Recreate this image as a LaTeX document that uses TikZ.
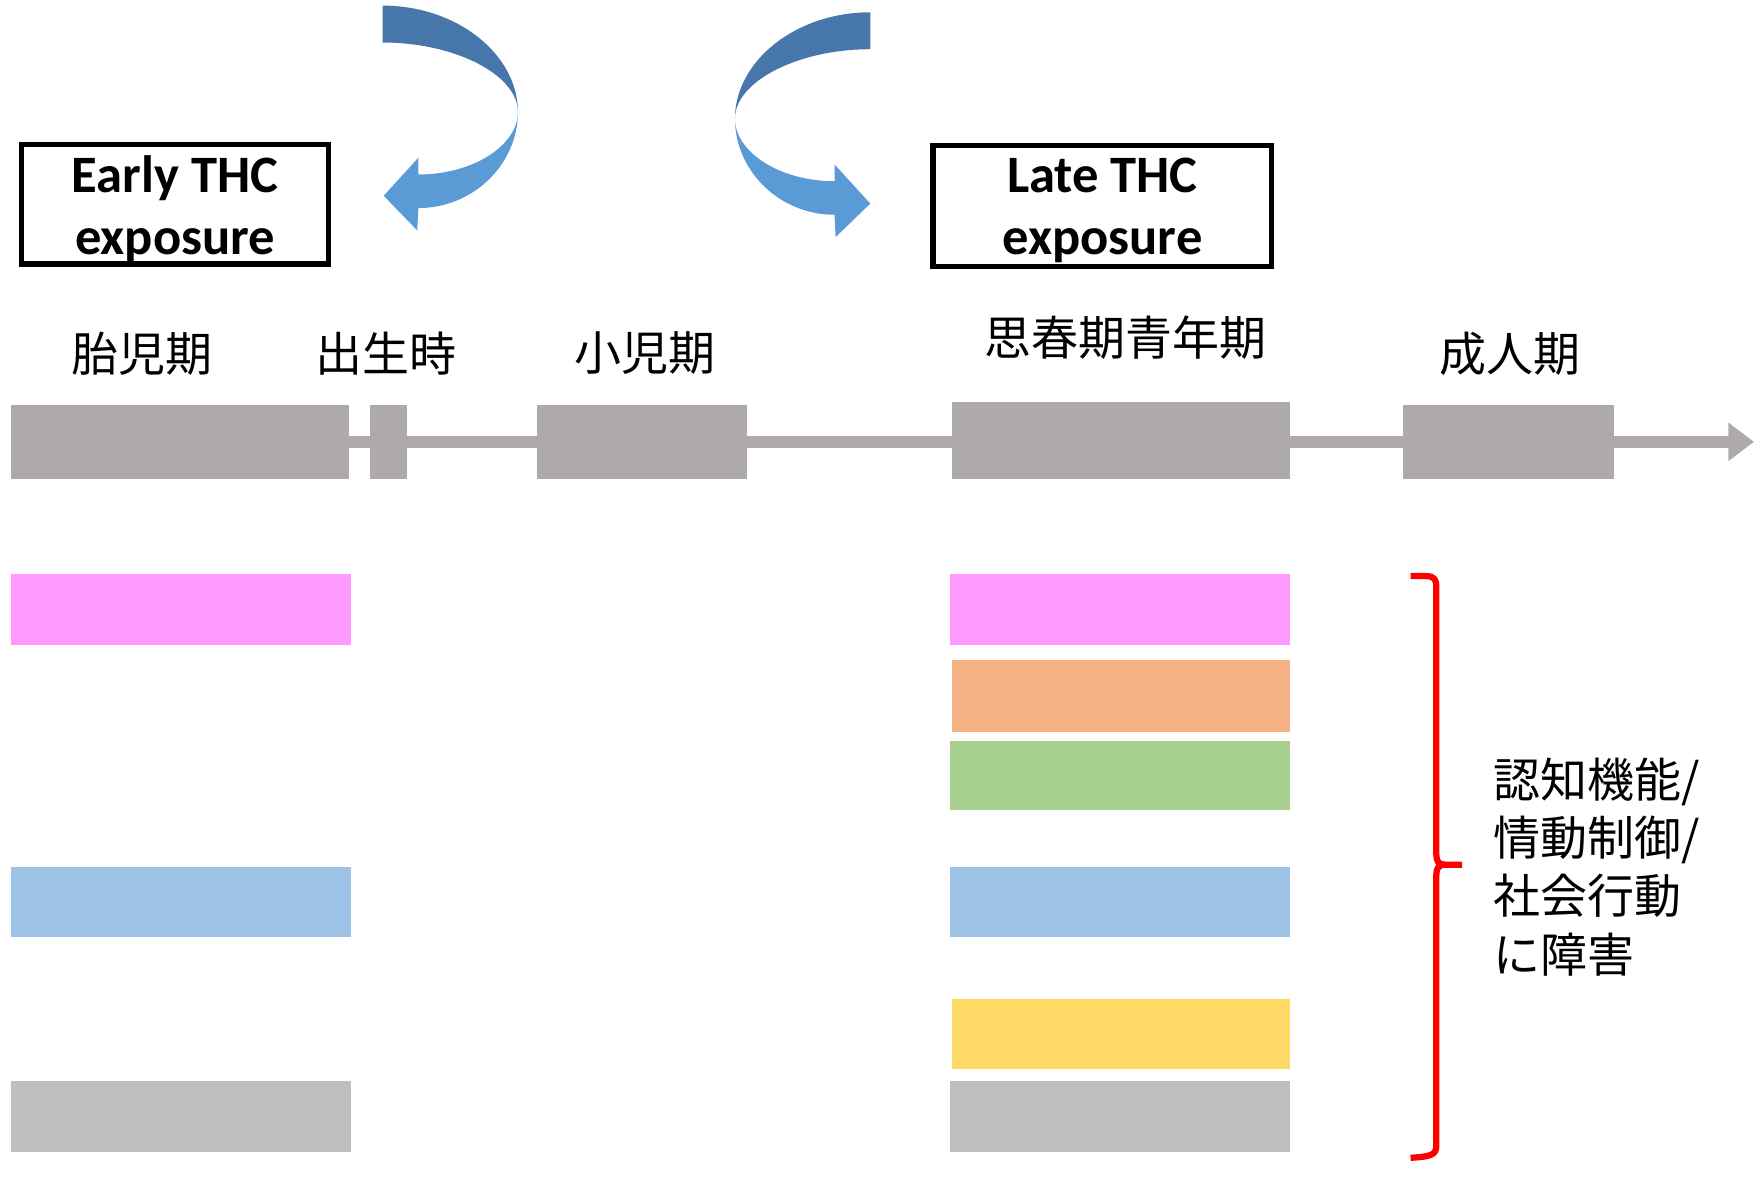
\documentclass[tikz,border=0pt]{standalone}
\usepackage{fontspec}
\newfontfamily\cjk{Noto Sans CJK JP}
\newfontfamily\carl{Carlito}
\usetikzlibrary{arrows.meta}
\definecolor{tlgray}{RGB}{174,170,170}
\definecolor{arrdark}{RGB}{70,118,170}
\definecolor{arrlight}{RGB}{91,155,213}
\definecolor{bpink}{RGB}{255,153,255}
\definecolor{borange}{RGB}{244,177,131}
\definecolor{bgreen}{RGB}{169,209,142}
\definecolor{bblue}{RGB}{157,195,230}
\definecolor{byellow}{RGB}{255,217,102}
\definecolor{bgray}{RGB}{191,191,191}
\begin{document}
\begin{tikzpicture}[x=0.5pt,y=-0.5pt,
  tlbox/.style={fill=tlgray, inner sep=0pt, outer sep=0pt, minimum height=33pt},
  tlline/.style={draw=tlgray, line width=5.5pt},
  lab/.style={font=\cjk\fontsize{21pt}{26pt}\selectfont, inner sep=0pt},
  thcbox/.style={draw=black, line width=2.3pt, inner sep=0pt},
  thctext/.style={inner sep=0pt, align=center,
    font=\carl\bfseries\fontsize{23.5pt}{27.5pt}\selectfont},
  bar/.style={inner sep=0pt, outer sep=0pt, minimum width=152pt, minimum height=32pt},
]
\useasboundingbox (0,0) rectangle (1568,1069);

% curved arrows
\fill[arrdark] (342,5) .. controls (409,5) and (463,49) .. (463,100)
  .. controls (463,67) and (407,38) .. (342,38) -- cycle;
\fill[arrlight] (463,100) .. controls (463,147) and (423,186) .. (374,186)
  -- (373,206) -- (343,175) -- (374,141) -- (374,156)
  .. controls (423,156) and (463,130) .. (463,100) -- cycle;
\fill[arrdark] (778,11) .. controls (711,11) and (657,55) .. (657,106)
  .. controls (657,73) and (713,44) .. (778,44) -- cycle;
\fill[arrlight] (657,106) .. controls (657,153) and (697,192) .. (746,192)
  -- (747,212) -- (778,182) -- (746,147) -- (746,162)
  .. controls (697,162) and (657,136) .. (657,106) -- cycle;

% THC boxes
\node[thcbox, minimum width=137.5pt, minimum height=53.5pt] (early) at (156.5,182.5) {};
\node[thctext] (earlyt) at (156.5,187) {Early THC\\exposure};
\node[thcbox, minimum width=151.5pt, minimum height=54pt] (late) at (985.5,184) {};
\node[thctext] (latet) at (985.5,188) {Late THC\\exposure};

% timeline labels
\node[lab] (l1) at (127,316) {胎児期};
\node[lab] (l2) at (345,316) {出生時};
\node[lab] (l3) at (577,316) {小児期};
\node[lab] (l4) at (1006,302) {思春期青年期};
\node[lab] (l5) at (1350,316) {成人期};

% timeline
\node[tlbox, minimum width=151pt] (t1) at (161,395) {};
\node[tlbox, minimum width=16.5pt] (t2) at (347.5,395) {};
\node[tlbox, minimum width=94pt] (t3) at (574,395) {};
\node[tlbox, minimum width=151pt, minimum height=34.5pt] (t4) at (1002,393.5) {};
\node[tlbox, minimum width=94.5pt] (t5) at (1348.5,395) {};
\coordinate (tend) at (1568,395);
\draw[tlline] (t1.east) -- (t2.west);
\draw[tlline] (t2.east) -- (t3.west);
\draw[tlline] (t3.east) -- (t3.east -| t4.west);
\draw[tlline] (t4.east |- t5.east) -- (t5.west);
\draw[tlline, -{Triangle[length=11.5pt,width=16.5pt]}] (t5.east) -- (tend);

% bars left
\node[bar, fill=bpink] (pl) at (162,545) {};
\node[bar, fill=bblue, minimum height=31.5pt] (bl) at (162,806.5) {};
\node[bar, fill=bgray] (gl) at (162,998) {};
% bars right
\node[bar, fill=bpink] (pr) at (1001,545) {};
\node[bar, fill=borange, minimum width=151pt] (or) at (1002,622) {};
\node[bar, fill=bgreen, minimum height=31pt] (gr) at (1001,693) {};
\node[bar, fill=bblue, minimum height=31.5pt] (br) at (1001,806.5) {};
\node[bar, fill=byellow, minimum width=151pt, minimum height=31.5pt] (yr) at (1002,924.5) {};
\node[bar, fill=bgray] (gyr) at (1001,998) {};

% bracket
\draw[red, line width=2.8pt, line join=round]
  (1261,515) -- (1274,515) .. controls (1283,515) and (1284,518) .. (1284,526)
  -- (1284,764) .. controls (1284,770) and (1286,773) .. (1292,773) -- (1307,773)
  (1292,773) .. controls (1286,773) and (1284,776) .. (1284,782)
  -- (1284,1024) .. controls (1284,1032) and (1280,1034) .. (1261,1035);

\node[lab, anchor=west, align=left] (imp) at (1335,775) {認知機能/\\情動制御/\\社会行動\\に障害};
\end{tikzpicture}
\end{document}
